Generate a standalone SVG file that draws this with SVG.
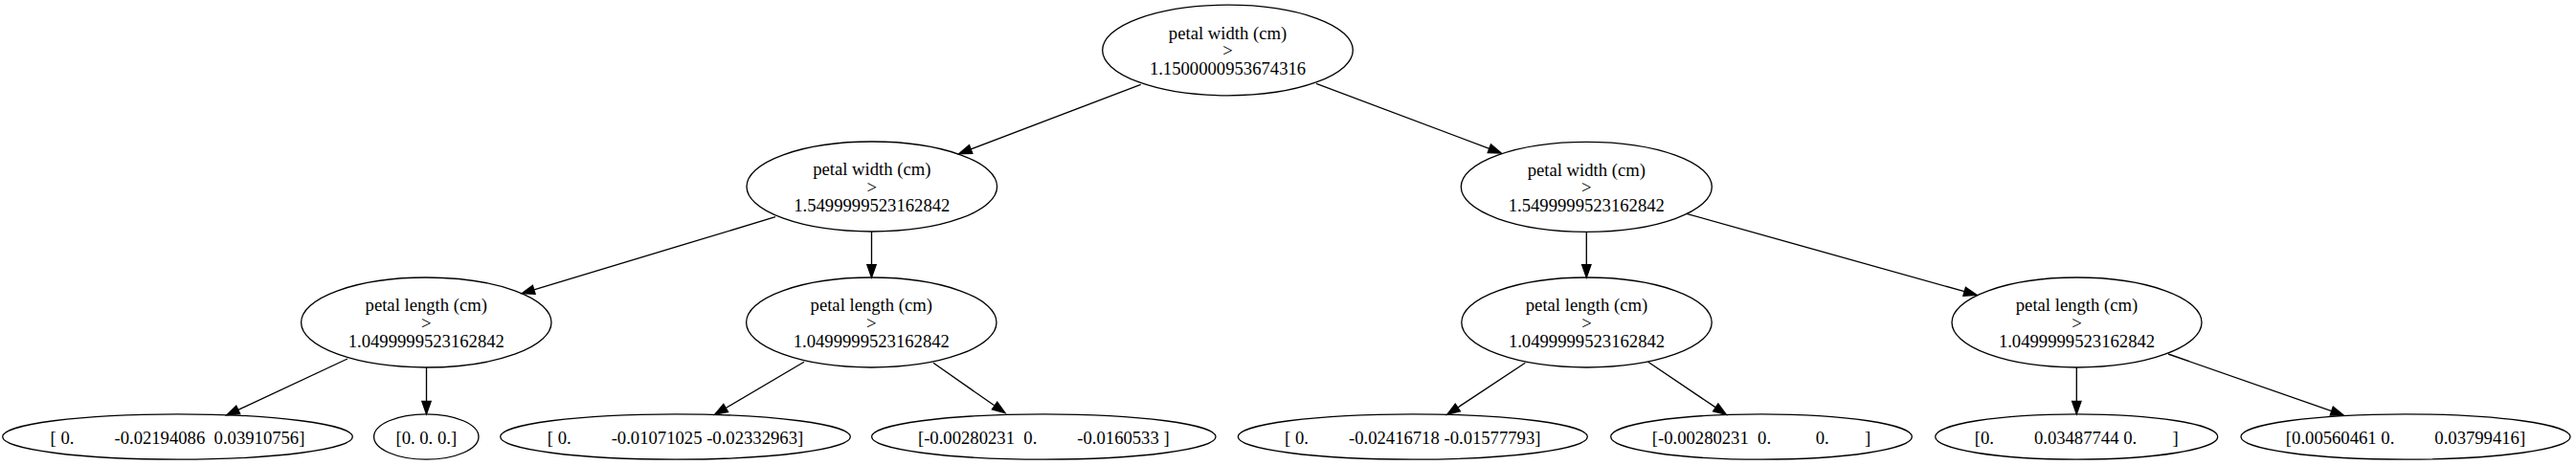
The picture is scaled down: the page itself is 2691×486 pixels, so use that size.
<svg xmlns="http://www.w3.org/2000/svg" width="2691" height="486" viewBox="0 0 2691 486">
<style>
  .node ellipse { fill: none; stroke: #000; stroke-width: 1.33; }
  .node text { font-family: "Liberation Serif", "Times New Roman", serif; font-size: 18.67px; fill: #000; text-anchor: middle; white-space: pre; }
  .edge line { stroke: #000; stroke-width: 1.33; }
  .edge polygon { fill: #000; stroke: #000; stroke-width: 1.33; }
</style>
<rect x="0" y="0" width="2691" height="486" fill="#fff"/>
<g id="edges" class="edge">
  <line x1="1191.7" y1="88.3" x2="1014.16" y2="155.95"/>
  <polygon points="1001.7,160.7 1012.50,151.59 1015.82,160.32"/>
  <line x1="1375" y1="87.3" x2="1555.82" y2="155.31"/>
  <polygon points="1568.3,160 1554.18,159.68 1557.46,150.94"/>
  <line x1="810" y1="226.7" x2="557.76" y2="302.85"/>
  <polygon points="545,306.7 556.41,298.38 559.11,307.32"/>
  <line x1="910.5" y1="242" x2="910.5" y2="276.67"/>
  <polygon points="910.5,290 905.83,276.67 915.17,276.67"/>
  <line x1="1657.3" y1="242.5" x2="1657.3" y2="276.67"/>
  <polygon points="1657.3,290 1652.63,276.67 1661.97,276.67"/>
  <line x1="1761.7" y1="223.3" x2="2052.17" y2="304.70"/>
  <polygon points="2065,308.3 2050.91,309.20 2053.43,300.21"/>
  <line x1="363" y1="375" x2="248.78" y2="428.36"/>
  <polygon points="236.7,434 246.80,424.13 250.75,432.59"/>
  <line x1="445.5" y1="384" x2="445.5" y2="419.37"/>
  <polygon points="445.5,432.7 440.83,419.37 450.17,419.37"/>
  <line x1="840" y1="378.3" x2="758.18" y2="426.53"/>
  <polygon points="746.7,433.3 755.81,422.51 760.56,430.55"/>
  <line x1="975" y1="379.3" x2="1039.07" y2="424.07"/>
  <polygon points="1050,431.7 1036.40,427.89 1041.75,420.24"/>
  <line x1="1593.3" y1="379.3" x2="1522.82" y2="425.94"/>
  <polygon points="1511.7,433.3 1520.24,422.05 1525.39,429.84"/>
  <line x1="1721.7" y1="378.3" x2="1792.25" y2="425.85"/>
  <polygon points="1803.3,433.3 1789.64,429.72 1794.86,421.98"/>
  <line x1="2169.3" y1="384" x2="2169.3" y2="419.37"/>
  <polygon points="2169.3,432.7 2164.63,419.37 2173.97,419.37"/>
  <line x1="2265" y1="370" x2="2435.72" y2="429.61"/>
  <polygon points="2448.3,434 2434.18,434.02 2437.26,425.20"/>
</g>
<g id="n0" class="node">
  <ellipse cx="1282.5" cy="52.5" rx="130.8" ry="47.3"/>
  <text x="1282.5" y="40.7">petal width (cm)</text>
  <text x="1282.5" y="59.4">&gt;</text>
  <text x="1282.5" y="78.1">1.1500000953674316</text>
</g>
<g id="n1" class="node">
  <ellipse cx="910.8" cy="195" rx="130.8" ry="47"/>
  <text x="910.8" y="183.2">petal width (cm)</text>
  <text x="910.8" y="201.9">&gt;</text>
  <text x="910.8" y="220.6">1.5499999523162842</text>
</g>
<g id="n2" class="node">
  <ellipse cx="1657.3" cy="195.3" rx="131" ry="47"/>
  <text x="1657.3" y="183.5">petal width (cm)</text>
  <text x="1657.3" y="202.2">&gt;</text>
  <text x="1657.3" y="220.9">1.5499999523162842</text>
</g>
<g id="n3" class="node">
  <ellipse cx="445.3" cy="337" rx="130.7" ry="47"/>
  <text x="445.3" y="325.2">petal length (cm)</text>
  <text x="445.3" y="343.9">&gt;</text>
  <text x="445.3" y="362.6">1.0499999523162842</text>
</g>
<g id="n4" class="node">
  <ellipse cx="910.3" cy="337" rx="130.7" ry="47"/>
  <text x="910.3" y="325.2">petal length (cm)</text>
  <text x="910.3" y="343.9">&gt;</text>
  <text x="910.3" y="362.6">1.0499999523162842</text>
</g>
<g id="n5" class="node">
  <ellipse cx="1657.5" cy="337" rx="130.7" ry="47"/>
  <text x="1657.5" y="325.2">petal length (cm)</text>
  <text x="1657.5" y="343.9">&gt;</text>
  <text x="1657.5" y="362.6">1.0499999523162842</text>
</g>
<g id="n6" class="node">
  <ellipse cx="2169.5" cy="337" rx="130.5" ry="47"/>
  <text x="2169.5" y="325.2">petal length (cm)</text>
  <text x="2169.5" y="343.9">&gt;</text>
  <text x="2169.5" y="362.6">1.0499999523162842</text>
</g>
<g id="n7" class="node">
  <ellipse cx="185.5" cy="456.5" rx="182.8" ry="23.7"/>
  <text x="185.5" y="463.5" xml:space="preserve">[ 0.         -0.02194086  0.03910756]</text>
</g>
<g id="n8" class="node">
  <ellipse cx="445.3" cy="456.5" rx="54.7" ry="23.7"/>
  <text x="445.3" y="463.5">[0. 0. 0.]</text>
</g>
<g id="n9" class="node">
  <ellipse cx="705.5" cy="456.5" rx="182.8" ry="23.7"/>
  <text x="705.5" y="463.5" xml:space="preserve">[ 0.         -0.01071025 -0.02332963]</text>
</g>
<g id="n10" class="node">
  <ellipse cx="1090.3" cy="456.5" rx="179.7" ry="23.7"/>
  <text x="1090.3" y="463.5" xml:space="preserve">[-0.00280231  0.         -0.0160533 ]</text>
</g>
<g id="n11" class="node">
  <ellipse cx="1475.8" cy="456.5" rx="182.5" ry="23.7"/>
  <text x="1475.8" y="463.5" xml:space="preserve">[ 0.         -0.02416718 -0.01577793]</text>
</g>
<g id="n12" class="node">
  <ellipse cx="1840" cy="456.5" rx="157.3" ry="23.7"/>
  <text x="1840" y="463.5" xml:space="preserve">[-0.00280231  0.          0.        ]</text>
</g>
<g id="n13" class="node">
  <ellipse cx="2169.2" cy="456.5" rx="147.5" ry="23.7"/>
  <text x="2169.2" y="463.5" xml:space="preserve">[0.         0.03487744 0.        ]</text>
</g>
<g id="n14" class="node">
  <ellipse cx="2513" cy="456.5" rx="172" ry="23.7"/>
  <text x="2513" y="463.5" xml:space="preserve">[0.00560461 0.         0.03799416]</text>
</g>
</svg>
